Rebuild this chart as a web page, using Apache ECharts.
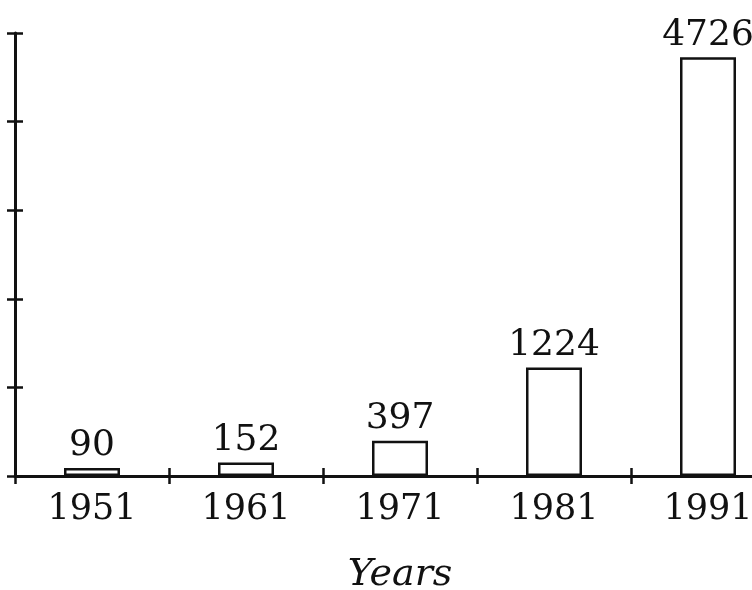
<!DOCTYPE html>
<html>
<head>
<meta charset="utf-8">
<script src="https://cdn.jsdelivr.net/npm/echarts@6/dist/echarts.min.js"></script>
<style>html,body{margin:0;padding:0;background:#fff;}#c{width:752px;height:590px;}</style>
</head>
<body>
<div id="c"></div>
<script>
var categories = ['1951', '1961', '1971', '1981', '1991'];
var values = [90, 152, 397, 1224, 4726];
var yTicks = [0, 1000, 2000, 3000, 4000, 5000];
var axisName = 'Years';

var chart = echarts.init(document.getElementById('c'));
var font = 'DejaVu Serif';
var black = '#111';
chart.setOption({
  backgroundColor: '#fff',
  animation: false,
  grid: { left: 15, width: 770, top: 33, height: 443, containLabel: false, outerBoundsMode: 'none' },
  xAxis: [{
    type: 'category', data: categories, position: 'bottom',
    axisLine: { lineStyle: { color: black, width: 3 } },
    axisTick: { show: true, length: 8, lineStyle: { color: black, width: 2.5 } },
    axisLabel: { color: black, fontFamily: font, fontSize: 35, margin: 16 },
    name: axisName, nameLocation: 'middle', nameGap: 80,
    nameTextStyle: { color: black, fontFamily: font, fontSize: 38, fontStyle: 'italic' }
  }, {
    type: 'category', data: categories, position: 'bottom', offset: 0,
    axisLine: { show: false },
    axisTick: { show: true, inside: true, length: 8, lineStyle: { color: black, width: 2.5 } },
    axisLabel: { show: false }
  }],
  yAxis: [{
    type: 'value', min: yTicks[0], max: yTicks[yTicks.length - 1], interval: yTicks[1] - yTicks[0],
    axisLine: { show: true, lineStyle: { color: black, width: 3 } },
    axisTick: { show: true, length: 8, lineStyle: { color: black, width: 2.5 } },
    axisLabel: { show: false },
    splitLine: { show: false }
  }, {
    type: 'value', min: yTicks[0], max: yTicks[yTicks.length - 1], interval: yTicks[1] - yTicks[0],
    position: 'left', offset: 0,
    axisLine: { show: false },
    axisTick: { show: true, inside: true, length: 8, lineStyle: { color: black, width: 2.5 } },
    axisLabel: { show: false },
    splitLine: { show: false }
  }],
  series: [{
    type: 'bar', data: values, barWidth: 56,
    itemStyle: { color: '#fff', borderColor: black, borderWidth: 2.5 },
    label: { show: true, position: 'top', distance: 4, color: black, fontFamily: font, fontSize: 36 }
  }]
});
</script>
</body>
</html>
